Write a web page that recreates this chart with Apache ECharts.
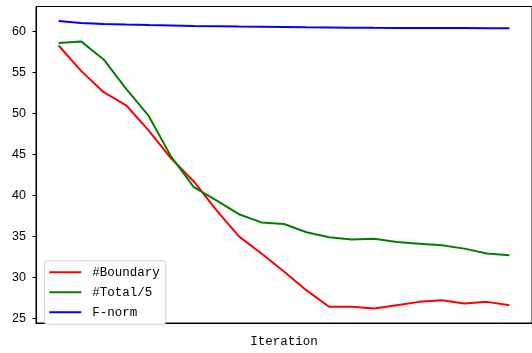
<!DOCTYPE html>
<html>
<head>
<meta charset="utf-8">
<script src="https://cdn.jsdelivr.net/npm/echarts@6/dist/echarts.min.js"></script>
<style>
  html, body { margin: 0; padding: 0; background: #fff; }
  #chart { width: 532px; height: 353px; }
</style>
</head>
<body>
<div id="chart"></div>
<script>
// Iteration index, 0..20
const iterations = [0, 1, 2, 3, 4, 5, 6, 7, 8, 9, 10, 11, 12, 13, 14, 15, 16, 17, 18, 19, 20];

const boundary = [58.3, 55.2, 52.6, 51.0, 47.9, 44.5, 41.7, 38.2, 35.0, 32.9, 30.7, 28.4, 26.4, 26.4, 26.2, 26.6, 27.0, 27.2, 26.8, 27.0, 26.6];
const totalDiv5 = [58.6, 58.8, 56.6, 53.0, 49.7, 44.7, 41.0, 39.4, 37.7, 36.7, 36.5, 35.5, 34.9, 34.6, 34.7, 34.3, 34.1, 33.9, 33.5, 32.9, 32.7];
const fNorm = [61.3, 61.05, 60.92, 60.85, 60.79, 60.74, 60.69, 60.65, 60.61, 60.58, 60.55, 60.52, 60.50, 60.48, 60.46, 60.45, 60.44, 60.43, 60.42, 60.41, 60.40];

const yTicks = [25, 30, 35, 40, 45, 50, 55, 60];

const seriesNames = ['#Boundary', '#Total/5', 'F-norm'];
const seriesColors = ['#ff0000', '#008000', '#0000ff'];

const pairs = arr => iterations.map((x, i) => [x, arr[i]]);

const chart = echarts.init(document.getElementById('chart'), null, { renderer: 'canvas' });

const lineSeries = [boundary, totalDiv5, fNorm].map((vals, k) => ({
  name: seriesNames[k],
  type: 'line',
  data: pairs(vals),
  symbol: 'none',
  showSymbol: false,
  animation: false,
  lineStyle: { color: seriesColors[k], width: 2 },
  itemStyle: { color: seriesColors[k] },
  z: 2 + k
}));

chart.setOption({
  animation: false,
  backgroundColor: '#ffffff',
  grid: {
    left: 36,
    top: 6.5,
    bottom: 20.3,
    right: -8.2,
    show: true,
    borderColor: '#000',
    borderWidth: 1,
    backgroundColor: 'transparent',
    containLabel: false
  },
  xAxis: {
    type: 'value',
    min: -1,
    max: 21,
    name: 'Iteration',
    nameLocation: 'middle',
    nameGap: 12,
    nameTextStyle: { fontFamily: 'Liberation Mono', fontSize: 12.5, color: '#000' },
    axisLine: { show: true, onZero: false, lineStyle: { color: '#000', width: 1 } },
    axisTick: { show: false },
    axisLabel: { show: false },
    splitLine: { show: false }
  },
  yAxis: {
    type: 'value',
    min: 24.42,
    max: 63.06,
    axisLine: { show: true, onZero: false, lineStyle: { color: '#000', width: 1 } },
    axisTick: { show: true, length: 3.5, lineStyle: { color: '#000', width: 1 }, customValues: yTicks },
    axisLabel: {
      customValues: yTicks,
      margin: 10,
      fontFamily: 'Liberation Sans',
      fontSize: 12.5,
      color: '#000'
    },
    splitLine: { show: false }
  },
  legend: {
    orient: 'vertical',
    left: 44.3,
    top: 260.7,
    data: seriesNames.map((n, k) => ({ name: n, icon: 'rect', itemStyle: { color: seriesColors[k] } })),
    itemWidth: 32,
    itemHeight: 2,
    itemGap: 6,
    padding: [4.6, 6, 5, 5],
    backgroundColor: '#fff',
    borderColor: '#d0d0d0',
    borderWidth: 1,
    borderRadius: 3,
    textStyle: { fontFamily: 'Liberation Mono', fontSize: 12.5, lineHeight: 14, color: '#000', padding: [0, 0, 0, 6] }
  },
  series: lineSeries
});
</script>
</body>
</html>
